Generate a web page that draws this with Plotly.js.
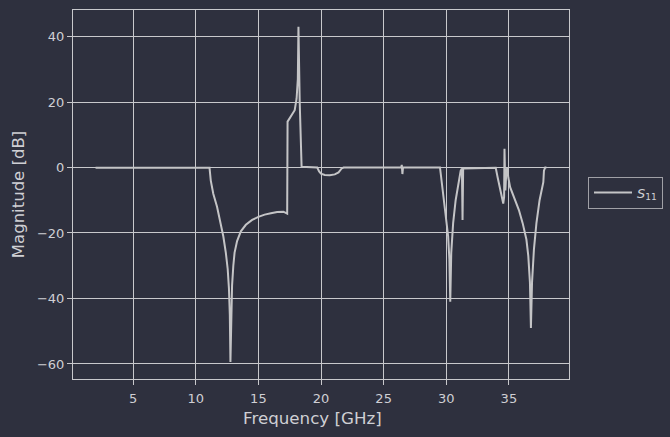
<!DOCTYPE html>
<html>
<head>
<meta charset="utf-8">
<script src="https://cdn.plot.ly/plotly-3.0.1.min.js"></script>
<style>html,body{margin:0;padding:0;background:#2e303e;}</style>
</head>
<body>
<div id="chart" style="width:670px;height:437px;"></div>
<script>
const freqGHz = [2.0, 11.1, 11.2, 11.4, 11.7, 12.0, 12.2, 12.4, 12.55, 12.65, 12.72, 12.77, 12.82, 12.9, 13.0, 13.1, 13.3, 13.6, 14.0, 14.5, 15.0, 15.5, 16.0, 16.5, 17.0, 17.3, 17.33, 17.6, 17.9, 18.05, 18.15, 18.2, 18.3, 18.45, 19.7, 19.85, 20.0, 20.3, 20.7, 21.1, 21.4, 21.65, 21.8, 26.4, 26.45, 26.5, 26.55, 29.5, 29.6, 29.8, 30.0, 30.15, 30.25, 30.32, 30.4, 30.55, 30.75, 30.95, 31.15, 31.25, 31.3, 31.35, 33.95, 34.1, 34.3, 34.55, 34.62, 34.65, 34.72, 34.8, 34.88, 34.95, 35.1, 35.4, 35.8, 36.1, 36.4, 36.55, 36.68, 36.76, 36.85, 37.0, 37.2, 37.45, 37.65, 37.75, 37.8, 37.9, 38.0];
const s11dB = [-0.1, -0.1, -4, -8, -12, -17, -21, -26, -31, -37, -45, -59.4, -46, -36, -30, -26, -22.5, -19.5, -17.5, -16, -15.1, -14.4, -14, -13.6, -13.5, -14.1, 14.0, 15.5, 17.5, 21, 27, 43, 20, 0.2, 0, -1.2, -1.9, -2.3, -2.4, -2.1, -1.5, -0.3, 0, 0, 0.8, -2, 0, 0, -3, -9, -15, -21, -28, -41, -26, -17, -10, -5, -1, -0.3, -16, -0.3, -0.1, -3, -7, -11, -9, 5.7, -7, -1, 0, -3, -6, -9, -13, -17, -22, -27, -35, -49, -35, -25, -17, -10, -6, -4.5, -1, 0, 0];
const xTicks = [5, 10, 15, 20, 25, 30, 35];
const yTicks = [-60, -40, -20, 0, 20, 40];
const seriesName = '<i>S</i><sub>11</sub>';
const xTitle = 'Frequency [GHz]';
const yTitle = 'Magnitude [dB]';

const bg = '#2e303e';
const fg = '#cfcfd4';
const grid = '#c8c8cc';

const axisCommon = {
  showgrid: true, gridcolor: grid, gridwidth: 1,
  zeroline: false, showline: true, linecolor: grid, linewidth: 1, mirror: true,
  ticks: 'outside', ticklen: 5, tickcolor: grid, tickwidth: 1,
  tickfont: {family: 'DejaVu Sans', size: 13, color: fg}
};

Plotly.newPlot('chart', [{
  x: freqGHz, y: s11dB, type: 'scatter', mode: 'lines', name: seriesName,
  line: {color: '#c4c4c6', width: 2}, showlegend: true
}], {
  width: 670, height: 437,
  paper_bgcolor: bg, plot_bgcolor: bg,
  margin: {l: 73, r: 101, t: 10, b: 58},
  font: {family: 'DejaVu Sans', color: fg},
  xaxis: Object.assign({}, axisCommon, {
    range: [0.2, 39.8], tickvals: xTicks, ticklabelstandoff: 2
  }),
  yaxis: Object.assign({}, axisCommon, {
    range: [-64.6, 48.1], tickvals: yTicks, ticktext: yTicks.map(v => v < 0 ? '\u2212' + Math.abs(v) : String(v)),
    title: {text: yTitle, font: {family: 'DejaVu Sans', size: 16.5, color: fg}, standoff: 8}
  }),
  annotations: [{
    text: xTitle, xref: 'paper', yref: 'paper', x: 0.482, y: -0.1057,
    xanchor: 'center', yanchor: 'middle', showarrow: false,
    font: {family: 'DejaVu Sans', size: 16.7, color: fg}
  }],
  legend: {
    xref: 'container', yref: 'container',
    x: 588 / 670, y: 1 - 192.5 / 437, xanchor: 'left', yanchor: 'middle',
    bgcolor: bg, bordercolor: '#a0a0a6', borderwidth: 1, itemwidth: 38,
    font: {family: 'DejaVu Sans', size: 13, color: fg}
  },
  showlegend: true
}, {displayModeBar: false, staticPlot: true});
</script>
</body>
</html>
